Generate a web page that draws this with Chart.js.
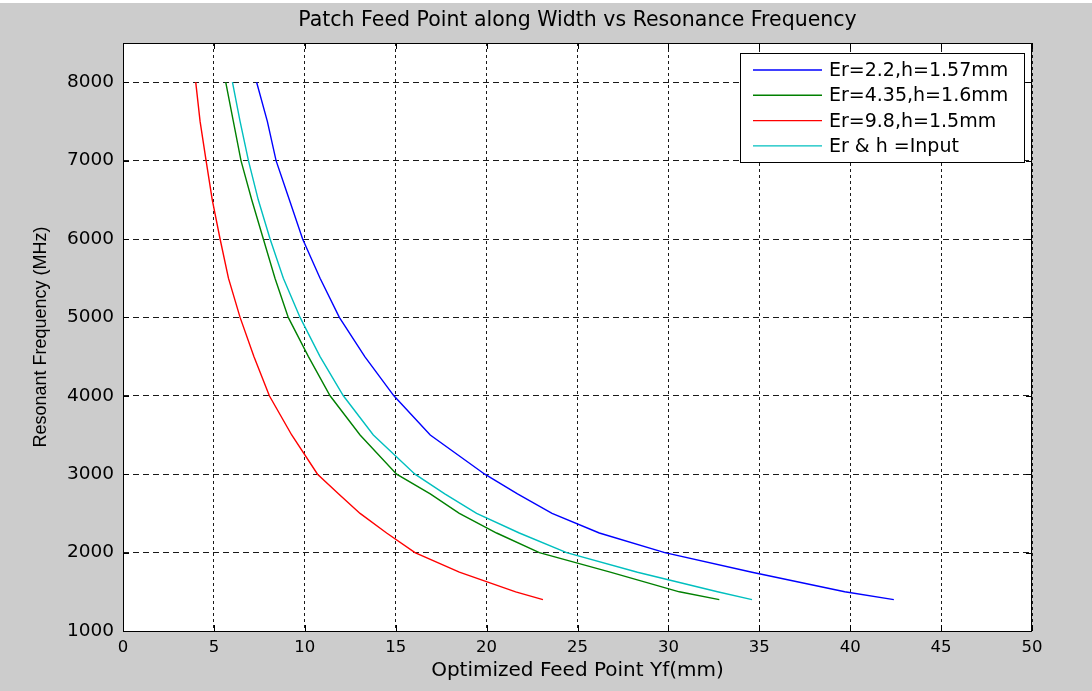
<!DOCTYPE html>
<html>
<head>
<meta charset="utf-8">
<script src="https://cdn.jsdelivr.net/npm/chart.js@4.4.1/dist/chart.umd.min.js"></script>
<style>
  html, body { margin: 0; padding: 0; background: #ffffff; }
  #wrap { position: absolute; left: 0; top: 3px; width: 1092px; height: 688px; }
</style>
</head>
<body>
<div id="wrap"><canvas id="myChart"></canvas></div>
<script>
const MY_CHART = document.querySelector("#myChart");

// resonant frequency (MHz), shared by all curves
const freqs = [8000, 7500, 7000, 6500, 6000, 5500, 5000, 4500, 4000, 3500, 3000, 2750, 2500, 2250, 2000, 1750, 1500, 1400];

// optimized feed point Yf (mm) for each substrate
const yfEr22 = [7.35, 7.94, 8.42, 9.15, 9.88, 10.84, 11.9, 13.3, 14.9, 16.9, 19.9, 21.7, 23.6, 26.2, 29.8, 34.6, 39.7, 42.4];
const yfEr435 = [5.65, 6.07, 6.49, 7.08, 7.72, 8.36, 9.09, 10.2, 11.39, 13.04, 15.05, 16.9, 18.5, 20.55, 22.9, 26.8, 30.6, 32.8];
const yfEr98 = [4.0, 4.24, 4.57, 4.91, 5.34, 5.8, 6.44, 7.2, 8.05, 9.28, 10.7, 11.85, 13.04, 14.5, 16.06, 18.5, 21.6, 23.1];
const yfInput = [6.02, 6.44, 6.9, 7.44, 8.09, 8.82, 9.74, 10.84, 12.12, 13.77, 16.06, 17.7, 19.45, 21.8, 24.4, 28.3, 32.7, 34.6];

const labels = ['Er=2.2,h=1.57mm', 'Er=4.35,h=1.6mm', 'Er=9.8,h=1.5mm', 'Er & h =Input'];
const xTicks = [0, 5, 10, 15, 20, 25, 30, 35, 40, 45, 50];
const yTicks = [1000, 2000, 3000, 4000, 5000, 6000, 7000, 8000];
const titleText = 'Patch Feed Point along Width vs Resonance Frequency';

const FONT = "'DejaVu Sans', 'Liberation Sans', sans-serif";

function toPoints(xs) {
  return xs.map((x, i) => ({ x: x, y: freqs[i] }));
}

function makeSet(label, xs, color) {
  return {
    label: label,
    data: toPoints(xs),
    showLine: true,
    borderColor: color,
    backgroundColor: color,
    borderWidth: 1.4,
    pointRadius: 0,
    tension: 0,
    fill: false
  };
}

const data = {
  datasets: [
    makeSet(labels[0], yfEr22, '#0000ff'),
    makeSet(labels[1], yfEr435, '#008000'),
    makeSet(labels[2], yfEr98, '#ff0000'),
    makeSet(labels[3], yfInput, '#00bfbf')
  ]
};

// grey figure background, white axes area, title centred over the axes
const background = {
  id: 'background',
  beforeDraw(chart) {
    const {ctx, chartArea: a} = chart;
    ctx.save();
    ctx.fillStyle = '#cccccc';
    ctx.fillRect(0, 0, chart.width, chart.height);
    ctx.fillStyle = '#ffffff';
    ctx.fillRect(a.left, a.top, a.right - a.left, a.bottom - a.top);
    ctx.fillStyle = '#000000';
    ctx.font = "20.5px " + FONT;
    ctx.textAlign = 'center';
    ctx.textBaseline = 'middle';
    ctx.fillText(titleText, (a.left + a.right) / 2, 18);
    ctx.restore();
  }
};

// axes box with inward ticks on every side, plus the boxed legend
const boxAndLegend = {
  id: 'boxAndLegend',
  afterDraw(chart) {
    const {ctx, chartArea: a, scales} = chart;
    ctx.save();
    ctx.strokeStyle = '#000000';
    ctx.lineWidth = 1;
    ctx.setLineDash([]);
    ctx.strokeRect(a.left + 0.5, a.top + 0.5, a.right - a.left - 1, a.bottom - a.top);

    const t = 6;
    ctx.beginPath();
    xTicks.forEach(v => {
      const px = Math.round(scales.x.getPixelForValue(v)) + 0.5;
      ctx.moveTo(px, a.bottom); ctx.lineTo(px, a.bottom - t);
      ctx.moveTo(px, a.top); ctx.lineTo(px, a.top + t);
    });
    yTicks.forEach(v => {
      const py = Math.round(scales.y.getPixelForValue(v)) + 0.5;
      ctx.moveTo(a.left, py); ctx.lineTo(a.left + t, py);
      ctx.moveTo(a.right, py); ctx.lineTo(a.right - t, py);
    });
    ctx.stroke();

    // legend
    const w = 284, h = 109;
    const bx = a.right - 8 - w, by = a.top + 10;
    ctx.fillStyle = '#ffffff';
    ctx.fillRect(bx, by, w, h);
    ctx.strokeStyle = '#000000';
    ctx.strokeRect(bx + 0.5, by + 0.5, w, h);
    ctx.font = "19px " + FONT;
    ctx.textBaseline = 'middle';
    chart.data.datasets.forEach((ds, i) => {
      const ry = by + 17 + i * 25.3;
      ctx.strokeStyle = ds.borderColor;
      ctx.lineWidth = 1.4;
      ctx.beginPath();
      ctx.moveTo(bx + 13, ry); ctx.lineTo(bx + 82, ry);
      ctx.stroke();
      ctx.fillStyle = '#000000';
      ctx.fillText(ds.label, bx + 89, ry + 1);
    });
    ctx.restore();
  }
};

const CONFIG = {
  type: 'scatter',
  data: data,
  options: {
    responsive: true,
    maintainAspectRatio: false,
    animation: false,
    layout: { padding: { right: 60, left: 0, top: 40, bottom: 0 } },
    plugins: {
      legend: { display: false },
      tooltip: { enabled: false },
      title: { display: false }
    },
    scales: {
      x: {
        type: 'linear',
        min: 0,
        max: 50,
        afterFit(scale) { scale.height = 60; },
        afterBuildTicks(scale) { scale.ticks = xTicks.map(v => ({ value: v })); },
        ticks: {
          color: '#000000',
          padding: 7,
          font: { family: FONT, size: 16.5 },
          callback: v => String(v)
        },
        grid: {
          color: '#1a1a1a',
          lineWidth: 1,
          drawTicks: false
        },
        border: { display: false, dash: [3, 3] },
        title: {
          display: true,
          text: 'Optimized Feed Point Yf(mm)',
          color: '#000000',
          font: { family: FONT, size: 20, lineHeight: 1.2 },
          padding: { top: 0, bottom: 8 }
        }
      },
      y: {
        type: 'linear',
        min: 1000,
        max: 8500,
        afterFit(scale) { scale.width = 123; },
        afterBuildTicks(scale) { scale.ticks = yTicks.map(v => ({ value: v })); },
        ticks: {
          color: '#000000',
          padding: 9,
          font: { family: FONT, size: 18.5 },
          callback: v => String(v)
        },
        grid: {
          color: '#1a1a1a',
          lineWidth: 1,
          drawTicks: false
        },
        border: { display: false, dash: [6, 4] },
        title: {
          display: true,
          text: 'Resonant Frequency (MHz)',
          color: '#000000',
          font: { family: "'Liberation Sans', sans-serif", size: 18, lineHeight: 1.2 },
          padding: { top: 30, bottom: 0 }
        }
      }
    }
  },
  plugins: [background, boxAndLegend]
};

const chart = new Chart(MY_CHART, CONFIG);
</script>
</body>
</html>
